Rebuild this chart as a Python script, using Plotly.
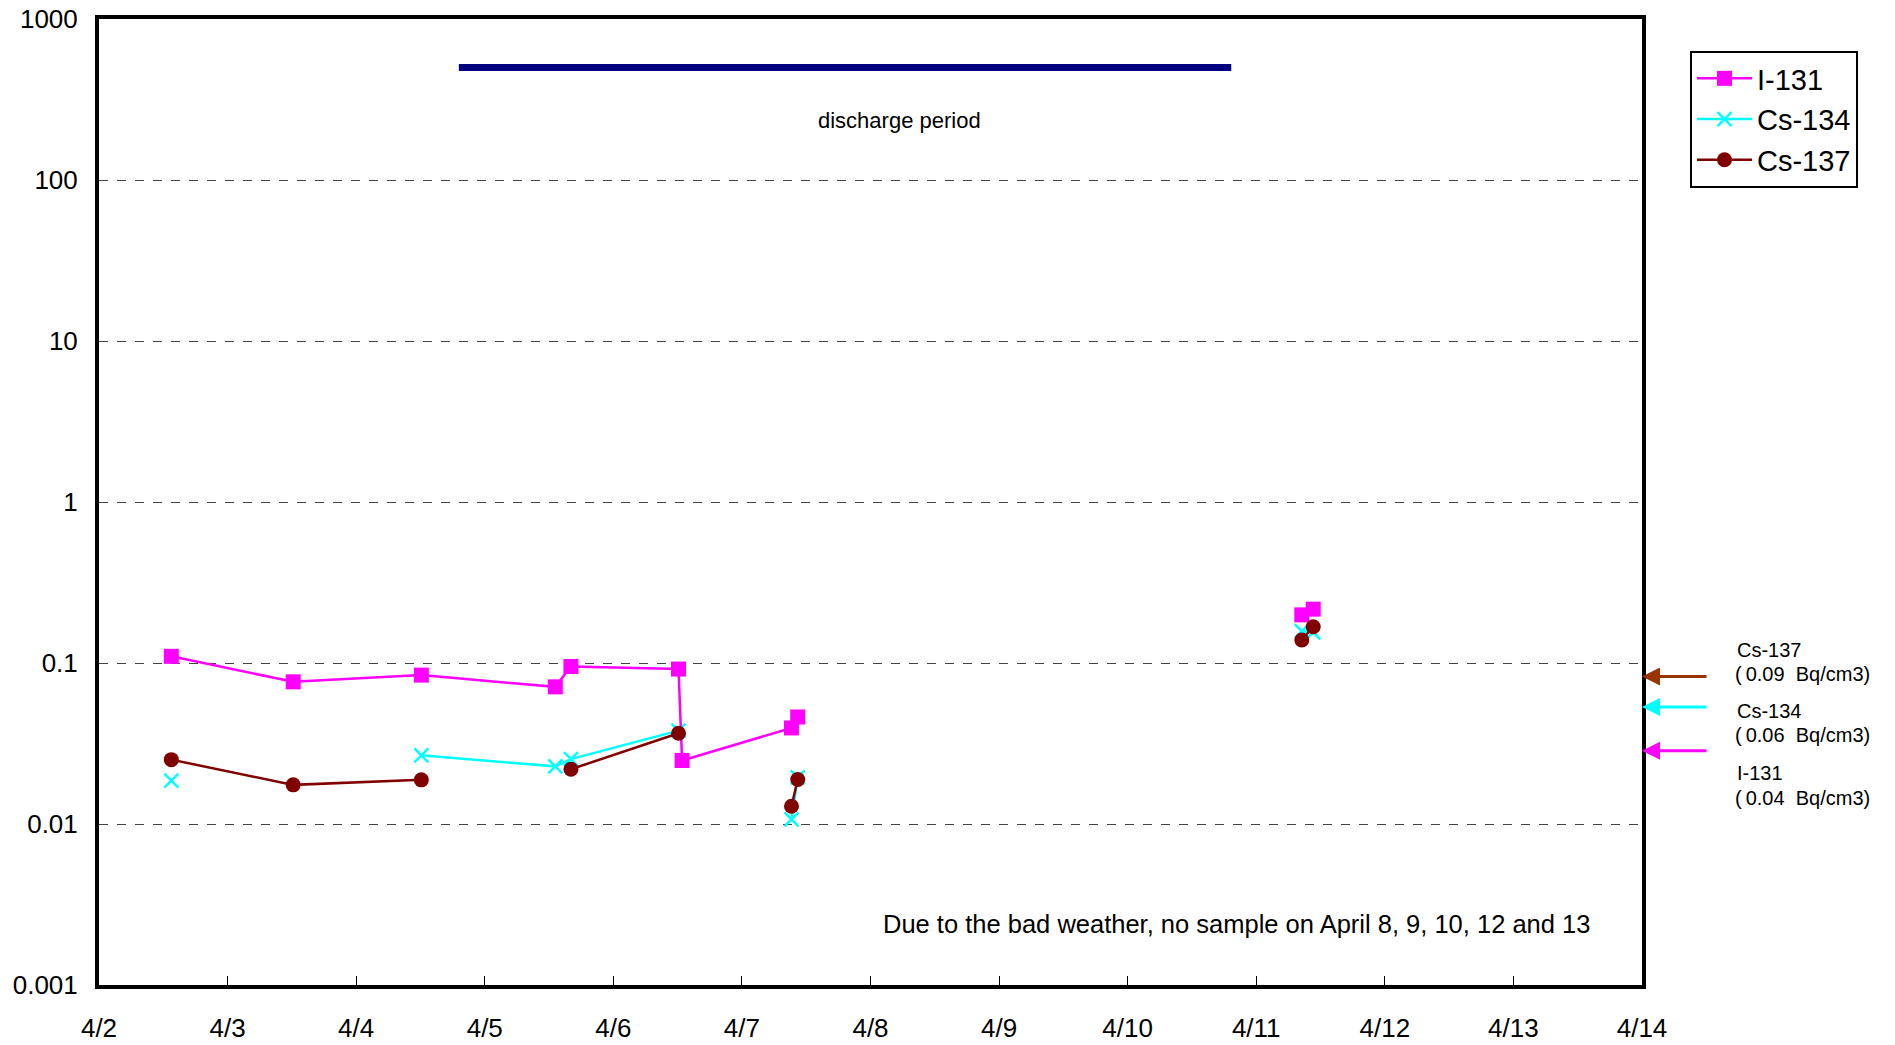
import math
import plotly.graph_objects as go

# Sampling times (the 4/9 entry is an empty "no sample" gap)
times = ["2011-04-02 13:30", "2011-04-03 12:15", "2011-04-04 12:10", "2011-04-05 13:10",
         "2011-04-05 16:05", "2011-04-06 12:10", "2011-04-06 12:50", "2011-04-07 09:15",
         "2011-04-07 10:25", "2011-04-09 12:00", "2011-04-11 08:30", "2011-04-11 10:38"]

i131 = [0.110, 0.0764, 0.0841, 0.0711, 0.0951, 0.0917, 0.0248, 0.0395, 0.0462, None, 0.199, 0.216]
cs134 = [0.0186, None, 0.0267, 0.0228, 0.0253, 0.038, None, 0.0107, 0.0195, None, 0.158, 0.155]
cs137 = [0.0251, 0.0175, 0.0188, None, 0.0219, 0.0366, None, 0.0129, 0.0189, None, 0.139, 0.168]

discharge_x = ["2011-04-04 19:10", "2011-04-10 19:20"]
discharge_y = [500, 500]

x_tickvals = ["2011-04-%02d" % d for d in range(2, 15)]
x_ticktext = ["4/%d" % d for d in range(2, 15)]
y_tickvals = [0.001, 0.01, 0.1, 1, 10, 100, 1000]
y_ticktext = ["0.001", "0.01", "0.1", "1", "10", "100", "1000"]

limit_labels = ["Cs-137", "Cs-134", "I-131"]
limit_values = ["0.09", "0.06", "0.04"]
limit_colors = ["#993300", "#00FFFF", "#FF00FF"]
limit_arrow_logy = [-1.084, -1.273, -1.545]

FONT = "Arial, Liberation Sans, sans-serif"
PLOT_L, PLOT_R, PLOT_T, PLOT_B = 99, 1642, 19, 985
W, H = 1895, 1045


def px_to_paper_x(px):
    return (px - PLOT_L) / (PLOT_R - PLOT_L)


def px_to_paper_y(py):
    return 1 - (py - PLOT_T) / (PLOT_B - PLOT_T)


fig = go.Figure()

fig.add_trace(go.Scatter(
    x=discharge_x, y=discharge_y, mode="lines",
    line=dict(color="#000080", width=7), showlegend=False, hoverinfo="skip"))

fig.add_trace(go.Scatter(
    x=times, y=i131, name="I-131", mode="lines+markers", connectgaps=False,
    line=dict(color="#FF00FF", width=2.5),
    marker=dict(symbol="square", size=15, color="#FF00FF")))
fig.add_trace(go.Scatter(
    x=times, y=cs134, name="Cs-134", mode="lines+markers", connectgaps=False,
    line=dict(color="#00FFFF", width=2.5),
    marker=dict(symbol="x-thin", size=14, color="#00FFFF",
                line=dict(color="#00FFFF", width=2.5))))
fig.add_trace(go.Scatter(
    x=times, y=cs137, name="Cs-137", mode="lines+markers", connectgaps=False,
    line=dict(color="#800000", width=2.5),
    marker=dict(symbol="circle", size=15, color="#800000")))

annotations = [
    dict(x="2011-04-08 05:30", y=math.log10(233), xref="x", yref="y", text="discharge period",
         showarrow=False, font=dict(family=FONT, size=22, color="black")),
    dict(x=px_to_paper_x(1592), y=-2.62, xref="paper", yref="y",
         text="Due to the bad weather, no sample on April 8, 9, 10, 12 and 13",
         xanchor="right", yanchor="middle", showarrow=False,
         font=dict(family=FONT, size=25.5, color="black")),
]
for col, ly in zip(limit_colors, limit_arrow_logy):
    annotations.append(dict(
        x=1.0, y=ly, xref="paper", yref="y", ax=66, ay=0,
        text="", showarrow=True, arrowhead=2, arrowsize=1.2, arrowwidth=3,
        arrowcolor=col, standoff=0))

label_rows = [(650, 674), (711, 735), (773, 798)]
for lab, val, (y1, y2) in zip(limit_labels, limit_values, label_rows):
    annotations.append(dict(
        x=px_to_paper_x(1735), y=px_to_paper_y(y1), xref="paper", yref="paper", text=lab,
        showarrow=False, xanchor="left", yanchor="middle",
        font=dict(family=FONT, size=20, color="black")))
    annotations.append(dict(
        x=px_to_paper_x(1733), y=px_to_paper_y(y2), xref="paper", yref="paper",
        text="(\u2009" + val + "\u00a0\u00a0Bq/cm3)",
        showarrow=False, xanchor="left", yanchor="middle",
        font=dict(family=FONT, size=20, color="black")))

fig.update_layout(
    width=W, height=H,
    margin=dict(l=PLOT_L, r=W - PLOT_R, t=PLOT_T, b=H - PLOT_B, pad=0, autoexpand=False),
    paper_bgcolor="white", plot_bgcolor="white",
    font=dict(family=FONT, size=26, color="black"),
    annotations=annotations,
    legend=dict(x=px_to_paper_x(1690), y=px_to_paper_y(51), xanchor="left", yanchor="top",
                bordercolor="black", borderwidth=2, bgcolor="white",
                font=dict(family=FONT, size=29, color="black"),
                tracegroupgap=0, itemwidth=55),
)

fig.update_xaxes(
    type="date", range=["2011-04-02", "2011-04-14"], automargin=False,
    tickvals=x_tickvals, ticktext=x_ticktext,
    ticks="inside", ticklen=9, tickwidth=1, tickcolor="black", ticklabelstandoff=17,
    showgrid=False, showline=True, linewidth=4, linecolor="black", mirror=True,
    tickfont=dict(family=FONT, size=26, color="black"), zeroline=False)

fig.update_yaxes(
    type="log", range=[-3, 3], automargin=False,
    tickvals=y_tickvals, ticktext=y_ticktext, ticks="", ticklabelstandoff=12,
    showgrid=True, gridcolor="#444444", griddash="dash", gridwidth=1,
    showline=True, linewidth=4, linecolor="black", mirror=True,
    tickfont=dict(family=FONT, size=26, color="black"), zeroline=False)

# remove the browser's default 8px page margin so the figure fills the window exactly
fig.write_html("out.html", config={"displayModeBar": False},
               post_script="document.body.style.margin='0';document.body.style.overflow='hidden';")
